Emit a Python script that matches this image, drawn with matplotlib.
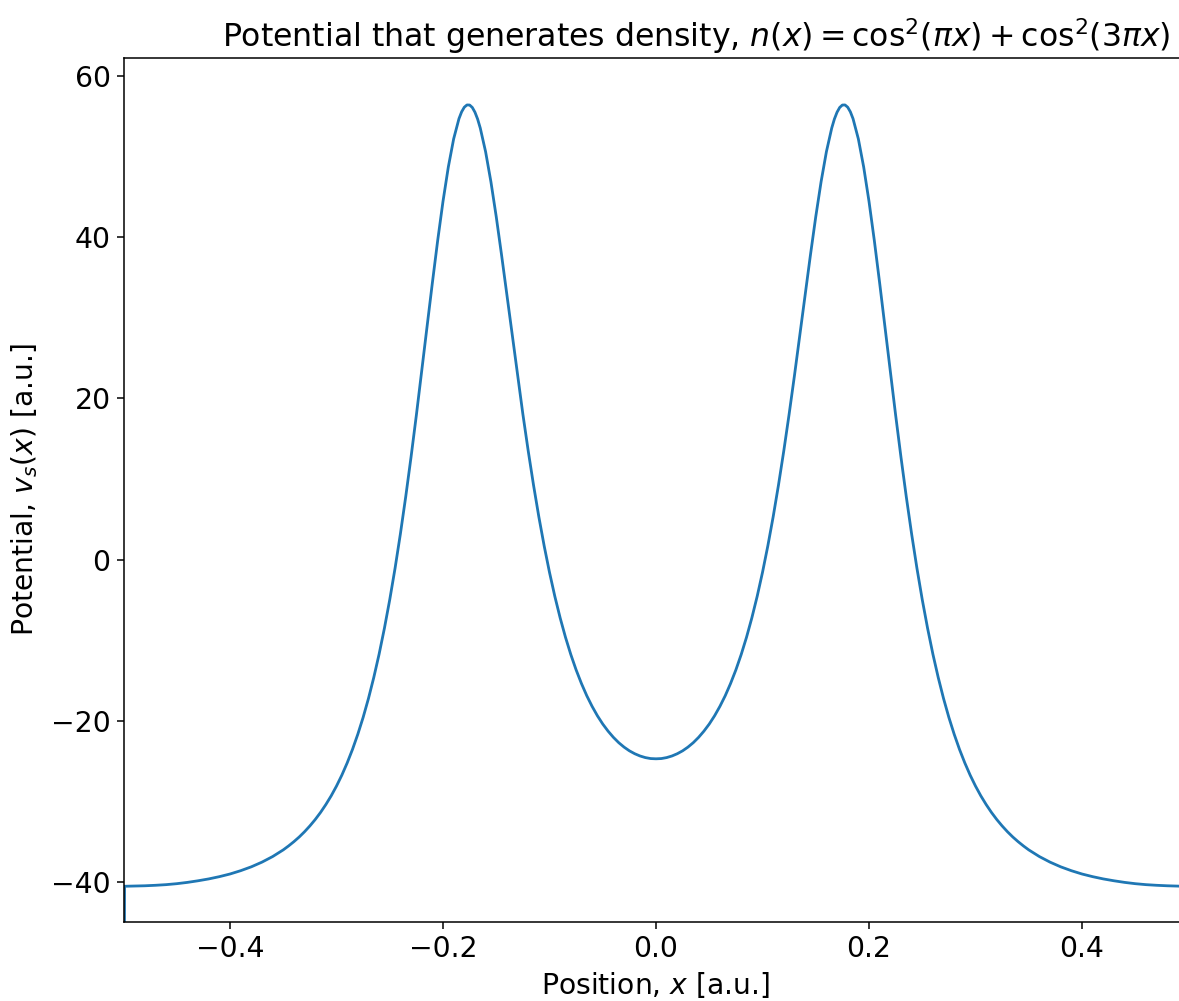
import matplotlib
matplotlib.use("Agg")
import matplotlib.pyplot as plt

# Position grid (a.u.) and potential values
x_pos = [-0.500, -0.499, -0.495, -0.49, -0.48, -0.47, -0.46, -0.45, -0.44, -0.43, -0.42, -0.41,
         -0.40, -0.39, -0.38, -0.37, -0.36, -0.350, -0.345, -0.340, -0.335, -0.330,
         -0.325, -0.320, -0.315, -0.310, -0.305, -0.300, -0.295, -0.290, -0.285, -0.280,
         -0.275, -0.270, -0.265, -0.260, -0.255, -0.250, -0.245, -0.240, -0.235, -0.230,
         -0.225, -0.220, -0.215, -0.210, -0.205, -0.200, -0.195, -0.190, -0.185, -0.1825,
         -0.180, -0.1775, -0.175, -0.1725, -0.170, -0.1675, -0.165, -0.160, -0.155, -0.150,
         -0.145, -0.140, -0.135, -0.130, -0.125, -0.120, -0.115, -0.110, -0.105, -0.100,
         -0.095, -0.090, -0.085, -0.080, -0.075, -0.070, -0.065, -0.060, -0.055, -0.050,
         -0.045, -0.040, -0.035, -0.030, -0.025, -0.020, -0.015, -0.010, -0.005, 0.000,
         0.005, 0.010, 0.015, 0.020, 0.025, 0.030, 0.035, 0.040, 0.045, 0.050,
         0.055, 0.060, 0.065, 0.070, 0.075, 0.080, 0.085, 0.090, 0.095, 0.100,
         0.105, 0.110, 0.115, 0.120, 0.125, 0.130, 0.135, 0.140, 0.145, 0.150,
         0.155, 0.160, 0.165, 0.1675, 0.170, 0.1725, 0.175, 0.1775, 0.180, 0.1825,
         0.185, 0.190, 0.195, 0.200, 0.205, 0.210, 0.215, 0.220, 0.225, 0.230,
         0.235, 0.240, 0.245, 0.250, 0.255, 0.260, 0.265, 0.270, 0.275, 0.280,
         0.285, 0.290, 0.295, 0.300, 0.305, 0.310, 0.315, 0.320, 0.325, 0.330,
         0.335, 0.340, 0.345, 0.350, 0.36, 0.37, 0.38, 0.39, 0.40, 0.41,
         0.42, 0.43, 0.44, 0.45, 0.46, 0.47, 0.48, 0.49]

v_s = [-90.0, -40.47, -40.46, -40.45, -40.41, -40.35, -40.27, -40.15, -39.99, -39.79, -39.56, -39.28,
       -38.95, -38.54, -38.06, -37.48, -36.79, -35.96, -35.47, -34.94, -34.36, -33.71,
       -32.99, -32.20, -31.32, -30.34, -29.26, -28.05, -26.70, -25.19, -23.51, -21.63,
       -19.54, -17.20, -14.59, -11.70, -8.48, -4.94, -1.04, 3.22, 7.82, 12.74,
       17.94, 23.35, 28.87, 34.31, 39.57, 44.43, 48.69, 52.17, 54.68, 55.53,
       56.10, 56.38, 56.37, 56.07, 55.48, 54.63, 53.51, 50.58, 46.85, 42.52,
       37.77, 32.82, 27.79, 22.83, 18.05, 13.51, 9.26, 5.32, 1.72, -1.56,
       -4.53, -7.20, -9.60, -11.74, -13.65, -15.34, -16.85, -18.17, -19.34, -20.36,
       -21.24, -22.01, -22.67, -23.22, -23.68, -24.04, -24.32, -24.52, -24.64, -24.67,
       -24.64, -24.52, -24.32, -24.04, -23.68, -23.22, -22.67, -22.01, -21.24, -20.36,
       -19.34, -18.17, -16.85, -15.34, -13.65, -11.74, -9.60, -7.20, -4.53, -1.56,
       1.72, 5.32, 9.26, 13.51, 18.05, 22.83, 27.79, 32.82, 37.77, 42.52,
       46.85, 50.58, 53.51, 54.63, 55.48, 56.07, 56.37, 56.38, 56.10, 55.53,
       54.68, 52.17, 48.69, 44.43, 39.57, 34.31, 28.87, 23.35, 17.94, 12.74,
       7.82, 3.22, -1.04, -4.94, -8.48, -11.70, -14.59, -17.20, -19.54, -21.63,
       -23.51, -25.19, -26.70, -28.05, -29.26, -30.34, -31.32, -32.20, -32.99, -33.71,
       -34.36, -34.94, -35.47, -35.96, -36.79, -37.48, -38.06, -38.54, -38.95, -39.28,
       -39.56, -39.79, -39.99, -40.15, -40.27, -40.35, -40.41, -40.45]

x_ticks = [-0.4, -0.2, 0.0, 0.2, 0.4]
x_tick_labels = ["\u22120.4", "\u22120.2", "0.0", "0.2", "0.4"]
y_ticks = [-40, -20, 0, 20, 40, 60]
y_tick_labels = ["\u221240", "\u221220", "0", "20", "40", "60"]

fig = plt.figure(figsize=(11.79, 10.01), dpi=100)
ax = fig.add_axes([123.5 / 1179, 79 / 1001, 1065 / 1179, 864 / 1001])

ax.plot(x_pos, v_s, color="#1f77b4", linewidth=2.0, solid_joinstyle="round")

ax.set_xlim(-0.5, 0.5)
ax.set_ylim(-44.9, 62.2)
ax.set_xticks(x_ticks)
ax.set_xticklabels(x_tick_labels)
ax.set_yticks(y_ticks)
ax.set_yticklabels(y_tick_labels)

ax.tick_params(labelsize=20.3, length=4.8, width=1.1, pad=4.5)
for s in ax.spines.values():
    s.set_linewidth(1.1)

ax.set_xlabel(r"Position, $x$ [a.u.]", fontsize=20.3, labelpad=5)
ax.set_ylabel(r"Potential, $v_s(x)$ [a.u.]", fontsize=20.3, labelpad=8)
title = ax.set_title(
    r"Potential that generates density, $n(x) = \mathrm{cos}^2(\pi x) + \mathrm{cos}^2(3\pi x)$",
    fontsize=22.7, pad=8)
title.set_x(0.5376)

fig.savefig("out.png", dpi=100)
